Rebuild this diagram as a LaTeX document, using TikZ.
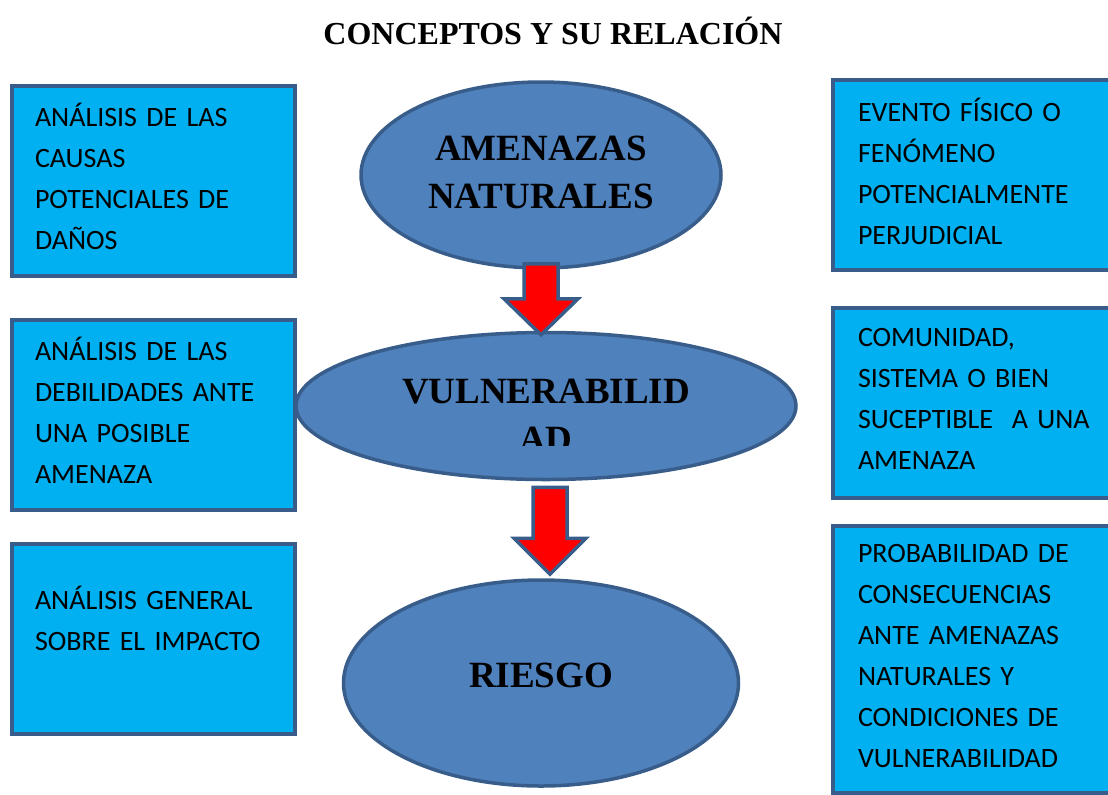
\documentclass[tikz,border=0pt]{standalone}
\usepackage{fontspec}
\setmainfont{Liberation Serif}
\newfontfamily\boxfont{Carlito}
\usepackage{xcolor}
\definecolor{boxblue}{RGB}{0, 176, 240}
\definecolor{edgeblue}{RGB}{56, 93, 138}
\definecolor{ovalblue}{RGB}{79, 129, 189}
\definecolor{arrowred}{RGB}{255, 0, 0}
\usetikzlibrary{shapes.geometric, positioning, calc}

\begin{document}
\begin{tikzpicture}[
        x=0.5pt, y=-0.5pt,
        node distance=20pt,
        infobox/.style={rectangle, draw=edgeblue, line width=2pt, fill=boxblue, minimum width=141.5pt, minimum height=95pt, inner xsep=11.5pt, text width=118.5pt, align=left, font=\boxfont\fontsize{14}{20.5}\selectfont},
        rightbox/.style={infobox, minimum width=150pt, inner xsep=12.5pt, text width=125pt},
        oval/.style={ellipse, draw=edgeblue, line width=1.75pt, fill=ovalblue, inner sep=0pt, align=center, font=\bfseries\fontsize{18.5}{24}\selectfont},
        blockarrow/.style={draw=edgeblue, line width=1.75pt, fill=arrowred, line join=miter}
    ]
        \clip (0,0) rectangle (1108,794);

        % Title
        \node[font=\bfseries\fontsize{16}{19}\selectfont, anchor=base] (title) at (553,44) {CONCEPTOS Y SU RELACIÓN};

        % Left boxes
        \node[infobox] (causas) at (153.5,180.5) {ANÁLISIS DE LAS\\CAUSAS\\POTENCIALES DE\\DAÑOS\\[-16.5pt]\mbox{}};
        \node[infobox, below=20pt of causas] (debil) {ANÁLISIS DE LAS\\DEBILIDADES ANTE\\UNA POSIBLE\\AMENAZA\\[-16.5pt]\mbox{}};
        \node[infobox, below=15pt of debil] (impacto) {ANÁLISIS GENERAL\\SOBRE EL IMPACTO\\\mbox{}};

        % Right boxes
        \node[rightbox] (evento) at (983,175) {EVENTO FÍSICO O\\FENÓMENO\\POTENCIALMENTE\\PERJUDICIAL\\[-16.5pt]\mbox{}};
        \node[rightbox, below=17pt of evento] (comunidad) {COMUNIDAD,\\SISTEMA O BIEN\\SUCEPTIBLE\ \ A UNA\\AMENAZA\\[-16.5pt]\mbox{}};
        \node[rightbox, below=12pt of comunidad, minimum height=133.5pt] (probab) {PROBABILIDAD DE\\CONSECUENCIAS\\ANTE AMENAZAS\\NATURALES Y\\CONDICIONES DE\\VULNERABILIDAD\\[-16.5pt]\mbox{}};

        % Ovals
        \node[oval, minimum width=180pt, minimum height=93pt] (amenazas) at (541,175) {AMENAZAS\\NATURALES\\[-21pt]\mbox{}};
        \node[oval, minimum width=250pt, minimum height=73.5pt] (vulner) at (546,406) {};
        \begin{scope}
            \clip ($(vulner.west)+(0,-80)$) rectangle ($(vulner.east)+(0,39)$);
            \node[oval, draw=none, fill=none] (vulnertext) at ($(vulner.center)+(0,9)$) {VULNERABILID\\AD};
        \end{scope}
        \node[oval, minimum width=197.5pt, minimum height=103pt] (riesgo) at (541,683) {RIESGO\\[-16pt]\mbox{}};

        % Arrows
        \coordinate (a1s) at ($(amenazas.south)+(0,-6)$);
        \coordinate (a1t) at ($(vulner.north)+(-5,4)$);
        \draw[blockarrow] ($(a1s)+(-17,0)$) -- ($(a1s)+(17,0)$) -- ($(a1t)+(17,-36)$) -- ($(a1t)+(37,-36)$) -- (a1t) -- ($(a1t)+(-37,-36)$) -- ($(a1t)+(-17,-36)$) -- cycle;
        \coordinate (a2s) at ($(vulner.south)+(4,6)$);
        \coordinate (a2t) at ($(riesgo.north)+(9,-4)$);
        \draw[blockarrow] ($(a2s)+(-17,0)$) -- ($(a2s)+(17,0)$) -- ($(a2t)+(17,-36)$) -- ($(a2t)+(36,-36)$) -- (a2t) -- ($(a2t)+(-36,-36)$) -- ($(a2t)+(-17,-36)$) -- cycle;
    \end{tikzpicture}
\end{document}
